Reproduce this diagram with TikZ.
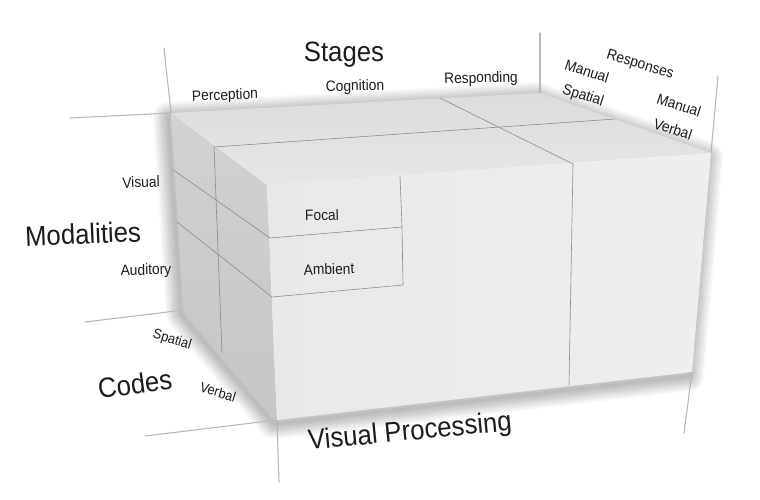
\documentclass[tikz,border=0pt]{standalone}
\usepackage{fontspec}
\setmainfont{Liberation Sans}
\definecolor{leftA}{HTML}{D2D2D2}
\definecolor{leftB}{HTML}{C6C6C6}
\definecolor{topA}{HTML}{DCDCDC}
\definecolor{topB}{HTML}{E6E6E6}
\definecolor{frontA}{HTML}{E8E8E8}
\definecolor{frontB}{HTML}{EEEEEE}
\definecolor{txt}{HTML}{1C1C1C}
\begin{document}
\begin{tikzpicture}[x=1pt,y=-1pt,
  lab/.style={font=\fontsize{15}{19}\selectfont, text=txt, inner sep=0pt, rotate=#1, xscale=0.92},
  lab/.default=0,
  big/.style={font=\fontsize{28}{32}\selectfont, text=txt, inner sep=0pt, rotate=#1, xscale=0.92},
  big/.default=0,
  wall/.style={draw=black!28, line width=1.1pt, line cap=round},
  div/.style={draw=black!45, line width=0.6pt}]
\useasboundingbox (0,0) rectangle (760,500);
\fill[white] (0,0) rectangle (760,500);

% box corners
\coordinate (BTL) at (171,113);
\coordinate (BTR) at (540,93);
\coordinate (FTR) at (711,153);
\coordinate (FTL) at (267,185);
\coordinate (FBL) at (277,420);
\coordinate (FBR) at (692,372);
\coordinate (BBL) at (184,310);

% wall end points
\coordinate (W1) at (164,48);
\coordinate (W2) at (70,118);
\coordinate (W3) at (540,33);
\coordinate (W4) at (718,76);
\coordinate (W5) at (85,322);
\coordinate (W6) at (145,436);
\coordinate (W7) at (279,482);
\coordinate (W8) at (684,433);

% soft shadow
\foreach \w in {30,27,...,3}
  \draw[line width=\w pt, black, opacity=0.028, line join=round]
    ([shift={(-3,4)}]BTL) -- ([shift={(-3,4)}]BTR) -- ([shift={(-3,4)}]FTR) --
    ([shift={(-3,4)}]FBR) -- ([shift={(-3,4)}]FBL) -- ([shift={(-3,4)}]BBL) -- cycle;

% walls / axes
\draw[wall] (W1) -- (BTL);
\draw[wall] (W2) -- (BTL);
\draw[wall] (W3) -- (BTR);
\draw[wall] (W4) -- (FTR);
\draw[wall] (W5) -- (BBL);
\draw[wall] (W6) -- (FBL);
\draw[wall] (FBL) -- (W7);
\draw[wall] (FBR) -- (W8);

% faces
\shade[top color=leftA, bottom color=leftB] (BTL) -- (FTL) -- (FBL) -- (BBL) -- cycle;
\shade[top color=topA, bottom color=topB] (BTL) -- (BTR) -- (FTR) -- (FTL) -- cycle;
\shade[left color=frontA, right color=frontB] (FTL) -- (FTR) -- (FBR) -- (FBL) -- cycle;

% division points
\coordinate (D1) at (214,147);
\coordinate (D2) at (615,119);
\coordinate (D3) at (222,353);
\coordinate (S1) at (440,98);
\coordinate (S2) at (573,164);
\coordinate (S3) at (569,385);
\coordinate (M1) at (172,169);
\coordinate (M2) at (270,238);
\coordinate (M3) at (177,222);
\coordinate (M4) at (272,297);
\coordinate (F1) at (400,176);
\coordinate (F2) at (402,227);
\coordinate (F3) at (403,285);

\draw[div] (D1) -- (D2);
\draw[div] (D1) -- (D3);
\draw[div] (S1) -- (S2) -- (S3);
\draw[div] (M1) -- (M2) -- (F2);
\draw[div] (M3) -- (M4) -- (F3);
\draw[div] (F1) -- (F2) -- (F3);

% labels
\node[big] (stages) at (344,55) {Stages};
\node[lab=2] (perc) at (225,96) {Perception};
\node[lab=1] (cogn) at (355,87) {Cognition};
\node[lab=1.5] (resp) at (481,79) {Responding};
\node[lab=-17] (resps) at (640,65) {Responses};
\node[lab=-18] (ms1) at (587,71) {Manual};
\node[lab=-18] (ms2) at (583,96) {Spatial};
\node[lab=-18] (mv1) at (679,105) {Manual};
\node[lab=-18] (mv2) at (673,129) {Verbal};
\node[big=2.5] (mod) at (83,234) {Modalities};
\node[lab=2] (vis) at (141,182) {Visual};
\node[lab=1] (aud) at (146,271) {Auditory};
\node[lab=1] (focal) at (322,215) {Focal};
\node[lab=1.5] (amb) at (329,269) {Ambient};
\node[big=7.5] (codes) at (135,384) {Codes};
\node[lab=-17, font=\fontsize{14}{16}\selectfont] (cs) at (172,340) {Spatial};
\node[lab=-17, font=\fontsize{14}{16}\selectfont] (cv) at (218,392) {Verbal};
\node[big=5.5] (vp) at (410,433) {Visual Processing};
\end{tikzpicture}
\end{document}
